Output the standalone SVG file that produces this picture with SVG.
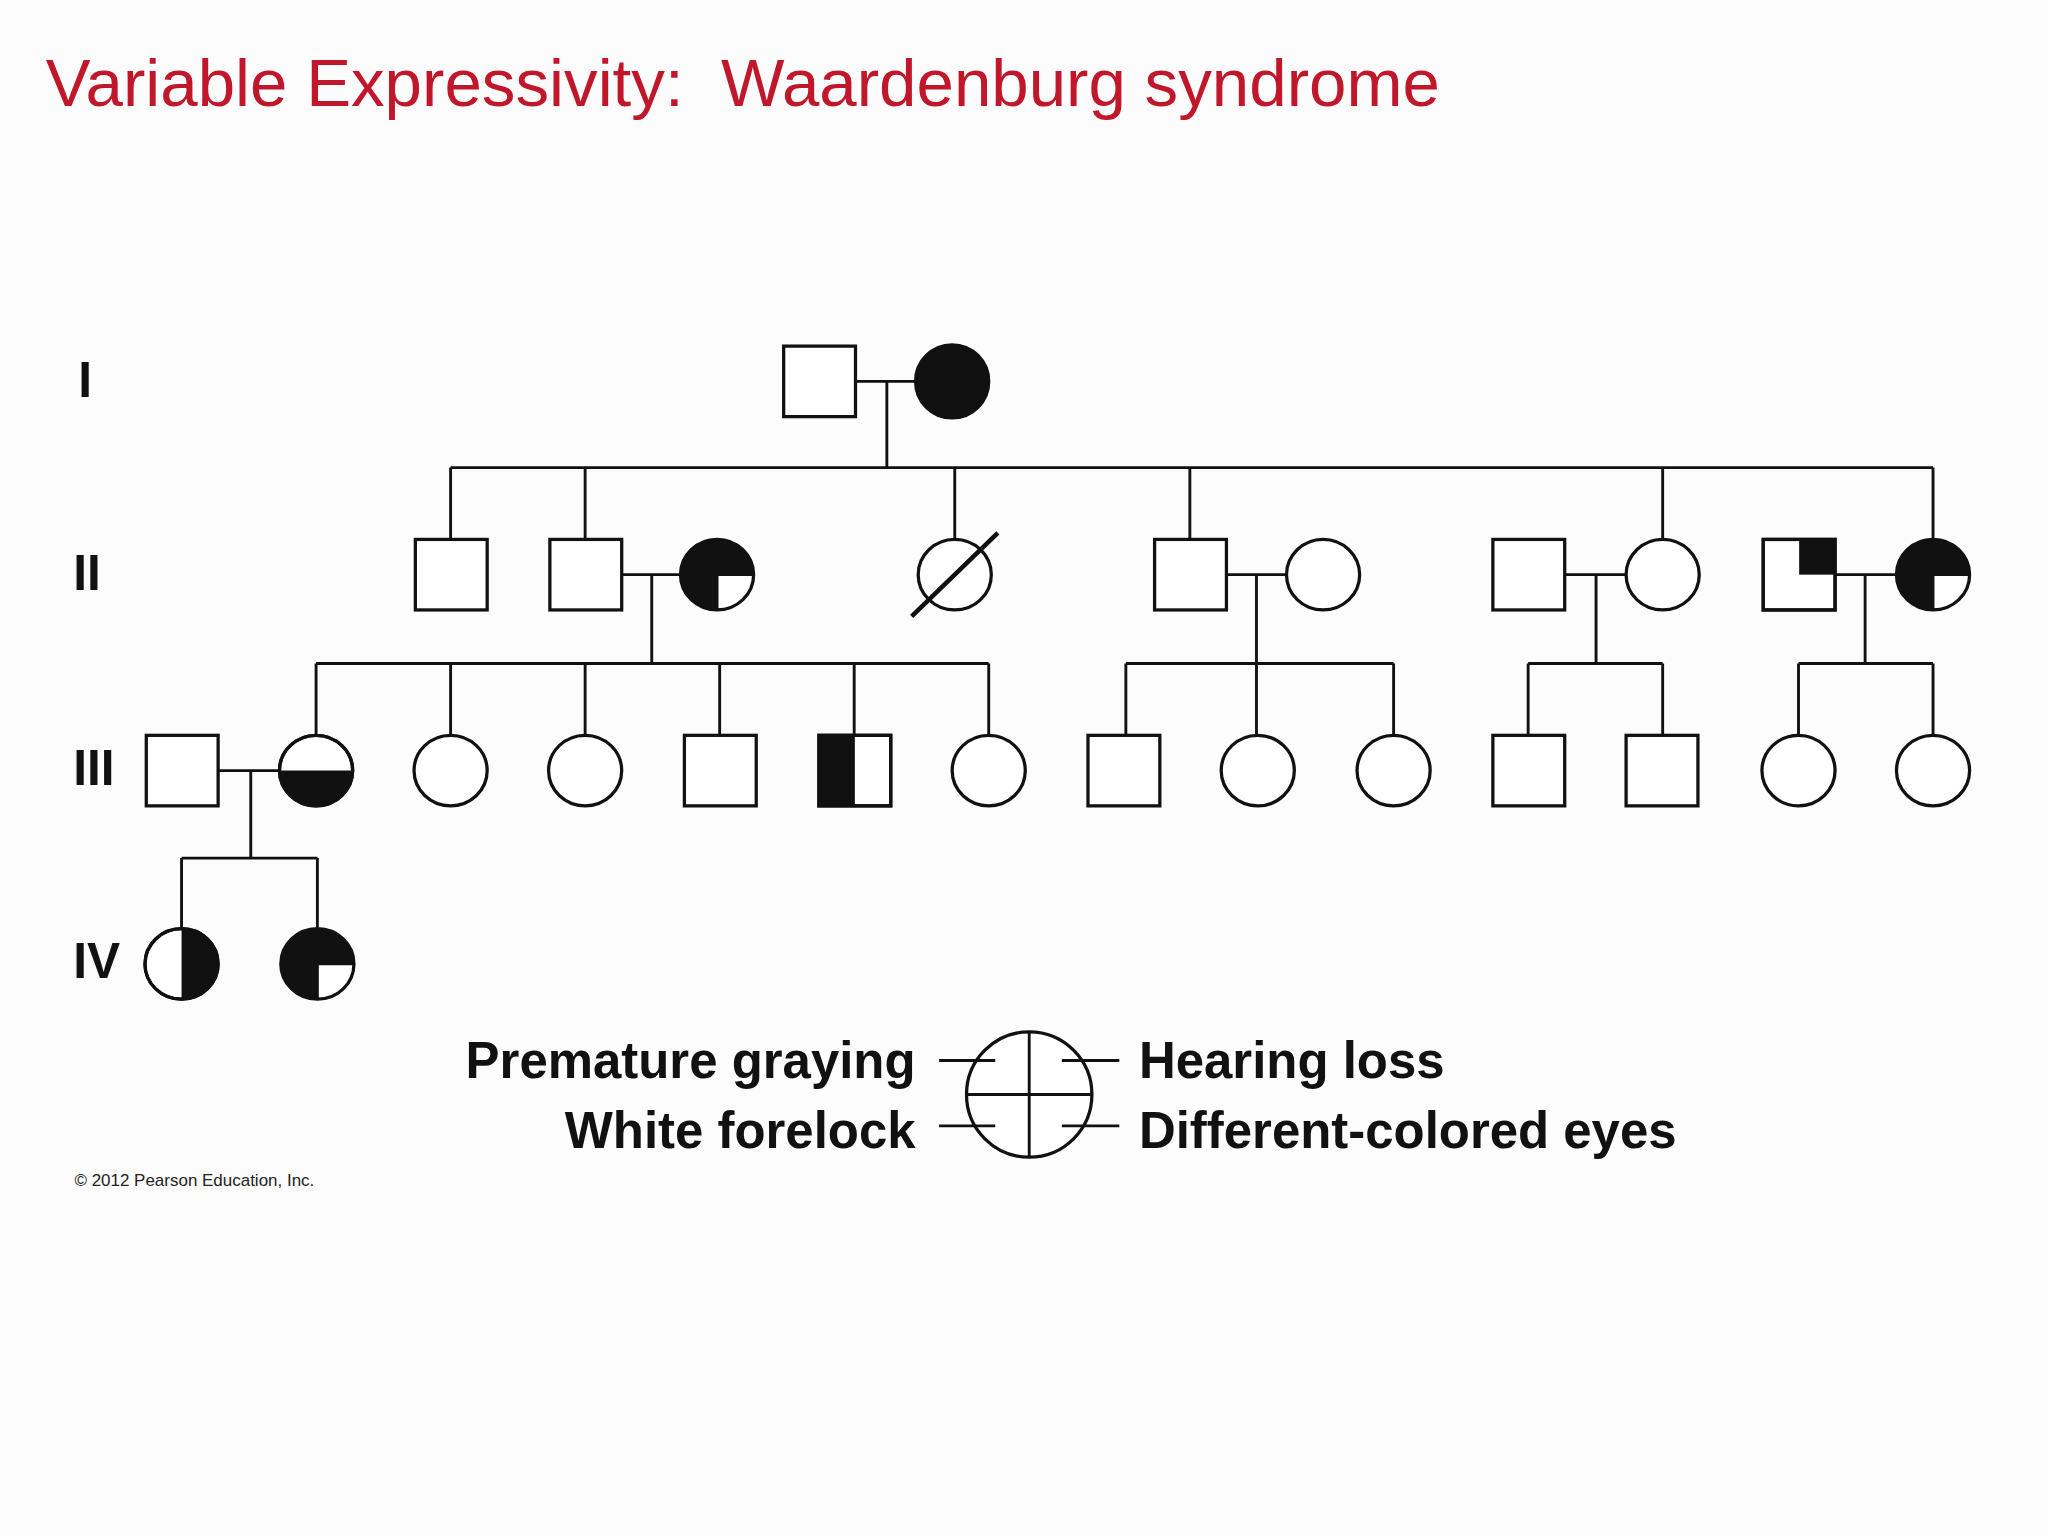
<svg xmlns="http://www.w3.org/2000/svg" width="2048" height="1536" viewBox="0 0 2048 1536">
<style>
.s{fill:#fff;stroke:#111;stroke-width:2.5}
.o{fill:none;stroke:#111;stroke-width:2.5}
.b{fill:#111;stroke:none}
.w{fill:#fff;stroke:none}
.c{fill:none;stroke:#111;stroke-width:2.2}
.g{font-family:"Liberation Sans",Arial,sans-serif;font-weight:bold;font-size:38px;fill:#111}
.l{font-family:"Liberation Sans",Arial,sans-serif;font-weight:bold;font-size:39px;fill:#111}
</style>
<rect width="2048" height="1536" fill="#fdfcfd"/>
<g transform="scale(1.3061)">
<text x="35" y="81" xml:space="preserve" font-family="Liberation Sans,Arial,sans-serif" font-size="51.5" fill="#c0172b">Variable Expressivity:  Waardenburg syndrome</text>
<text class="g" x="60" y="304">I</text>
<text class="g" x="56" y="452">II</text>
<text class="g" x="56" y="601">III</text>
<text class="g" x="56" y="749">IV</text>
<g id="connectors">
<path class="c" d="M655 292H701M679 292V358M345 358H1480M345 358V413M448 358V413M731 358V412M911 358V413M1273 358V412M1480 358V412"/>
<path class="c" d="M476 440H521M499 440V508M242 508H757M242 508V562M345 508V562M448 508V562M551 508V563M654 508V563M757 508V562"/>
<path class="c" d="M939 440H985M962 440V508M862 508H1067M862 508V563M962 508V562M1067 508V562"/>
<path class="c" d="M1198 440H1245M1222 440V508M1170 508H1273M1170 508V563M1273 508V563"/>
<path class="c" d="M1405 440H1452M1428 440V508M1377 508H1480M1377 508V562M1480 508V562"/>
<path class="c" d="M167 590H214M192 590V657M139 657H243M139 657V710M243 657V710"/>
</g>
<g id="I1"><rect class="s" x="600" y="265" width="55" height="54"/></g>
<g id="I2"><ellipse class="b" cx="729" cy="292" rx="28" ry="28"/><ellipse class="o" cx="729" cy="292" rx="28" ry="28"/></g>
<g id="II1"><rect class="s" x="318" y="413" width="55" height="54"/></g>
<g id="II2"><rect class="s" x="421" y="413" width="55" height="54"/></g>
<g id="II3"><ellipse class="b" cx="549" cy="440" rx="28" ry="27"/><path class="w" d="M549 440H577A28 27 0 0 1 549 467Z"/><path class="c" d="M549 440V467M549 440H577"/><ellipse class="o" cx="549" cy="440" rx="28" ry="27"/></g>
<g id="II4"><ellipse class="s" cx="731" cy="440" rx="28" ry="27"/><path d="M698 472L764 408" stroke="#111" stroke-width="3.5"/></g>
<g id="II5"><rect class="s" x="884" y="413" width="55" height="54"/></g>
<g id="II6"><ellipse class="s" cx="1013" cy="440" rx="28" ry="27"/></g>
<g id="II7"><rect class="s" x="1143" y="413" width="55" height="54"/></g>
<g id="II8"><ellipse class="s" cx="1273" cy="440" rx="28" ry="27"/></g>
<g id="II9"><rect class="s" x="1350" y="413" width="55" height="54"/><rect class="b" x="1377.5" y="413" width="27.5" height="27"/><rect class="o" x="1350" y="413" width="55" height="54"/></g>
<g id="II10"><ellipse class="b" cx="1480" cy="440" rx="28" ry="27"/><path class="w" d="M1480 440H1508A28 27 0 0 1 1480 467Z"/><path class="c" d="M1480 440V467M1480 440H1508"/><ellipse class="o" cx="1480" cy="440" rx="28" ry="27"/></g>
<g id="III1"><rect class="s" x="112" y="563" width="55" height="54"/></g>
<g id="III2"><ellipse class="s" cx="242" cy="590" rx="28" ry="27"/><path class="b" d="M214 590H270A28 27 0 0 1 214 590Z"/><ellipse class="o" cx="242" cy="590" rx="28" ry="27"/></g>
<g id="III3"><ellipse class="s" cx="345" cy="590" rx="28" ry="27"/></g>
<g id="III4"><ellipse class="s" cx="448" cy="590" rx="28" ry="27"/></g>
<g id="III5"><rect class="s" x="524" y="563" width="55" height="54"/></g>
<g id="III6"><rect class="s" x="627" y="563" width="55" height="54"/><rect class="b" x="627" y="563" width="27.5" height="54"/><rect class="o" x="627" y="563" width="55" height="54"/></g>
<g id="III7"><ellipse class="s" cx="757" cy="590" rx="28" ry="27"/></g>
<g id="III8"><rect class="s" x="833" y="563" width="55" height="54"/></g>
<g id="III9"><ellipse class="s" cx="963" cy="590" rx="28" ry="27"/></g>
<g id="III10"><ellipse class="s" cx="1067" cy="590" rx="28" ry="27"/></g>
<g id="III11"><rect class="s" x="1143" y="563" width="55" height="54"/></g>
<g id="III12"><rect class="s" x="1245" y="563" width="55" height="54"/></g>
<g id="III13"><ellipse class="s" cx="1377" cy="590" rx="28" ry="27"/></g>
<g id="III14"><ellipse class="s" cx="1480" cy="590" rx="28" ry="27"/></g>
<g id="IV1"><ellipse class="s" cx="139" cy="738" rx="28" ry="27"/><path class="b" d="M139 711A28 27 0 0 1 139 765Z"/><ellipse class="o" cx="139" cy="738" rx="28" ry="27"/></g>
<g id="IV2"><ellipse class="b" cx="243" cy="738" rx="28" ry="27"/><path class="w" d="M243 738H271A28 27 0 0 1 243 765Z"/><path class="c" d="M243 738V765M243 738H271"/><ellipse class="o" cx="243" cy="738" rx="28" ry="27"/></g>
<g id="legend">
<ellipse class="s" cx="788" cy="838" rx="48" ry="48"/>
<path class="c" d="M788 790V886M740 838H836M719 812H762M719 862H762M813 812H857M813 862H857"/>
<text class="l" x="701" y="825" text-anchor="end">Premature graying</text>
<text class="l" x="701" y="879" text-anchor="end">White forelock</text>
<text class="l" x="872" y="825">Hearing loss</text>
<text class="l" x="872" y="879">Different-colored eyes</text>
</g>
<text x="57" y="908" font-family="Liberation Sans,Arial,sans-serif" font-size="13" fill="#222">© 2012 Pearson Education, Inc.</text>
</g>
</svg>
